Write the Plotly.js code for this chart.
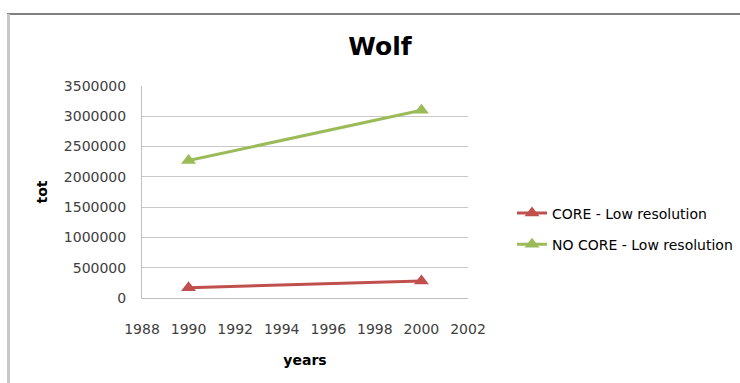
<!DOCTYPE html>
<html>
<head>
<meta charset="utf-8">
<script src="https://cdn.plot.ly/plotly-3.0.1.min.js"></script>
<style>html,body{margin:0;padding:0;background:#fff;}#chart{width:740px;height:383px;}</style>
</head>
<body>
<div id="chart"></div>
<script>
const years = [1990, 2000];
const coreLow = [170000, 280000];
const noCoreLow = [2270000, 3100000];
const seriesNames = ["CORE - Low resolution", "NO CORE - Low resolution"];
const xTicks = [1988, 1990, 1992, 1994, 1996, 1998, 2000, 2002];
const yTicks = [0, 500000, 1000000, 1500000, 2000000, 2500000, 3000000, 3500000];

const F = "DejaVu Sans, sans-serif";
const traces = [
  {x: years, y: coreLow, name: seriesNames[0], mode: "lines+markers", legendgroup: "a",
   line: {color: "#C0504D", width: 3}, marker: {symbol: "triangle-up", size: 13, color: "#C0504D"}},
  {x: years, y: noCoreLow, name: seriesNames[1], mode: "lines+markers", legendgroup: "b",
   line: {color: "#9BBB59", width: 3}, marker: {symbol: "triangle-up", size: 13, color: "#9BBB59"}}
];
const px = p => (p - 142) / 326;
const py = p => (298 - p) / 212;
const layout = {
  width: 740, height: 383,
  margin: {l: 142, r: 272, t: 86, b: 85, autoexpand: false},
  paper_bgcolor: "#ffffff", plot_bgcolor: "#ffffff",
  font: {family: F, size: 14, color: "#404040"},
  title: {text: "<b>Wolf</b>", font: {family: F, size: 25, color: "#000"}, x: 0.5135, xanchor: "center", y: 1 - 46/383, yanchor: "middle", yref: "container"},
  xaxis: {range: [1988, 2002], tickvals: xTicks, ticktext: xTicks.map(String), showgrid: false, zeroline: false,
    showline: true, linecolor: "#bfbfbf", linewidth: 1, ticks: "", ticklabelstandoff: 18,
    tickfont: {family: F, size: 14, color: "#404040"},
    title: {text: "<b>years</b>", font: {family: F, size: 14, color: "#000"}, standoff: 19}},
  yaxis: {range: [0, 3500000], tickvals: yTicks, ticktext: yTicks.map(String), showgrid: true, gridcolor: "#c8c8c8", gridwidth: 1,
    zeroline: false, showline: true, linecolor: "#bfbfbf", linewidth: 1, ticks: "", ticklabelstandoff: 12,
    tickfont: {family: F, size: 14, color: "#404040"},
    title: {text: "<b>tot</b>", font: {family: F, size: 14, color: "#000"}, standoff: 12}},
  showlegend: true,
  legend: {x: px(512), xanchor: "left", y: py(229), yanchor: "middle", font: {family: F, size: 14, color: "#000"},
    traceorder: "grouped", tracegroupgap: 10, bgcolor: "rgba(0,0,0,0)", itemwidth: 30},
  shapes: [
    {type: "line", xref: "paper", yref: "paper", x0: px(7), x1: px(745), y0: py(14), y1: py(14), line: {color: "#808080", width: 2}},
    {type: "line", xref: "paper", yref: "paper", x0: px(8.5), x1: px(8.5), y0: py(14), y1: py(390), line: {color: "#c8c8c8", width: 3}}
  ]
};
Plotly.newPlot("chart", traces, layout, {displayModeBar: false, staticPlot: true});
</script>
</body>
</html>
